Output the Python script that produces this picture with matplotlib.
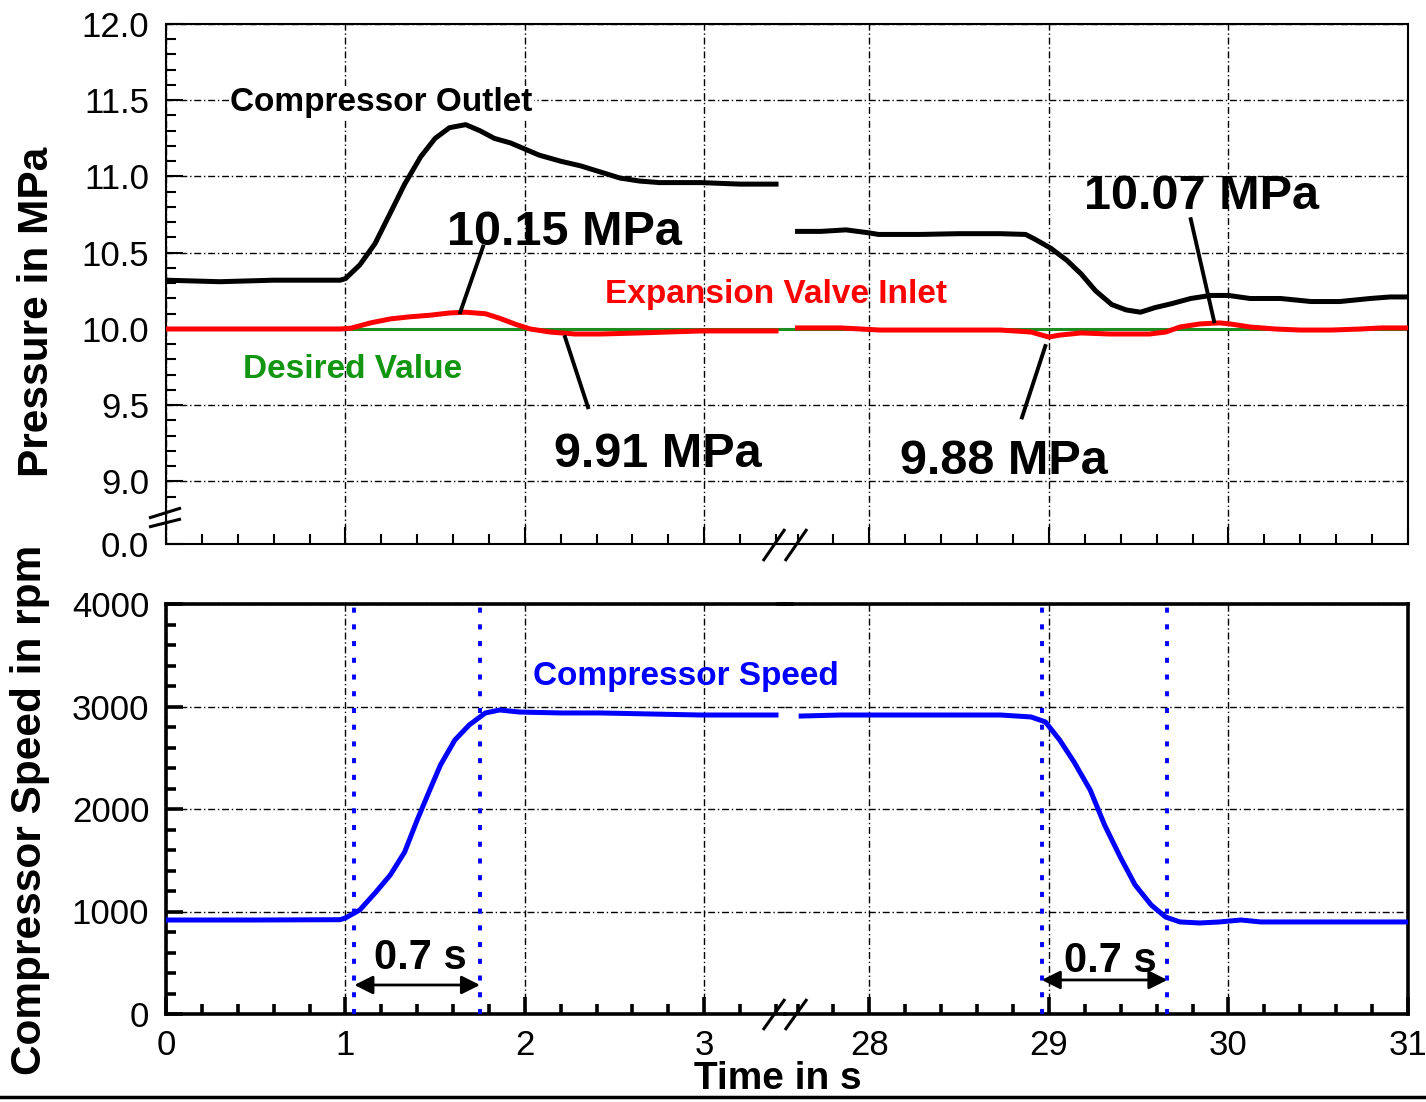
import numpy as np
import matplotlib
matplotlib.use('Agg')
import matplotlib.pyplot as plt
from matplotlib.lines import Line2D
from matplotlib.ticker import MultipleLocator

# compressor outlet pressure (MPa), start and end of the run
outlet_t1 = [0, 0.3, 0.6, 0.9, 0.97, 1.0, 1.08, 1.165, 1.25, 1.33, 1.42, 1.5,
             1.58, 1.67, 1.75, 1.83, 1.92, 2.0, 2.08, 2.2, 2.31, 2.42, 2.53,
             2.64, 2.75, 2.98, 3.2, 3.4]
outlet_p1 = [10.32, 10.31, 10.32, 10.32, 10.32, 10.33, 10.42, 10.56, 10.76,
             10.95, 11.13, 11.25, 11.32, 11.34, 11.30, 11.25, 11.22, 11.18,
             11.14, 11.10, 11.07, 11.03, 10.99, 10.97, 10.96, 10.96, 10.95,
             10.95]
outlet_t2 = [27.6, 27.73, 27.87, 28.0, 28.05, 28.28, 28.5, 28.73, 28.87, 28.92,
             29.01, 29.1, 29.18, 29.26, 29.35, 29.43, 29.51, 29.59, 29.68,
             29.79, 29.9, 30.0, 30.12, 30.29, 30.46, 30.62, 30.79, 30.9, 31.0]
outlet_p2 = [10.64, 10.64, 10.65, 10.63, 10.62, 10.62, 10.625, 10.625, 10.62,
             10.59, 10.53, 10.45, 10.36, 10.25, 10.16, 10.125, 10.11, 10.14,
             10.165, 10.20, 10.22, 10.22, 10.20, 10.20, 10.18, 10.18, 10.20,
             10.21, 10.21]

# expansion valve inlet pressure (MPa)
valve_t1 = [0, 0.5, 0.97, 1.03, 1.14, 1.25, 1.36, 1.47, 1.58, 1.67, 1.78,
            1.86, 1.95, 2.03, 2.14, 2.28, 2.42, 2.64, 2.98, 3.4]
valve_p1 = [10.0, 10.0, 10.0, 10.005, 10.04, 10.066, 10.08, 10.09, 10.105,
            10.11, 10.10, 10.07, 10.03, 10.0, 9.98, 9.967, 9.967, 9.974,
            9.987, 9.987]
valve_t2 = [27.6, 27.84, 28.06, 28.51, 28.73, 28.9, 29.0, 29.06, 29.18, 29.34,
            29.56, 29.65, 29.73, 29.84, 29.95, 30.01, 30.12, 30.26, 30.4,
            30.57, 30.74, 30.85, 31.0]
valve_p2 = [10.007, 10.007, 9.993, 9.993, 9.993, 9.98, 9.947, 9.96, 9.974,
            9.967, 9.967, 9.98, 10.013, 10.033, 10.04, 10.033, 10.013, 10.0,
            9.993, 9.993, 10.0, 10.007, 10.007]

desired_value = 10.0

# compressor speed (rpm)
speed_t1 = [0, 0.5, 0.97, 1.0, 1.08, 1.165, 1.25, 1.33, 1.4, 1.47, 1.53, 1.61,
            1.69, 1.78, 1.86, 1.97, 2.2, 2.42, 2.7, 2.98, 3.4]
speed_n1 = [917, 917, 920, 937, 1015, 1180, 1356, 1580, 1893, 2185, 2430,
            2673, 2820, 2937, 2966, 2946, 2937, 2937, 2927, 2917, 2917]
speed_t2 = [27.62, 27.84, 28.17, 28.5, 28.73, 28.9, 28.98, 29.06, 29.14,
            29.23, 29.31, 29.4, 29.48, 29.57, 29.65, 29.73, 29.84, 29.95,
            30.07, 30.18, 30.4, 31.0]
speed_n2 = [2907, 2917, 2917, 2917, 2917, 2898, 2850, 2673, 2458, 2185, 1844,
            1522, 1259, 1063, 946, 898, 888, 898, 917, 898, 898, 898]

# ramp marks (s)
ramp_up = [1.05, 1.75]
ramp_down = [28.96, 29.66]

W, H = 1426, 1102
GRID = dict(color='black', linestyle=(0, (5, 2, 1, 2)), linewidth=1.0)


def fig_line(fig, xs, ys, **kw):
    # decoration in pixel coordinates of the figure
    fig.add_artist(Line2D(np.array(xs) / W, 1 - np.array(ys) / H,
                          transform=fig.transFigure, **kw))


def style_axes(ax, side, spine_w, xlim, xticks):
    ax.set_xlim(xlim)
    ax.set_xticks(xticks)
    ax.xaxis.set_minor_locator(MultipleLocator(0.2))
    ax.patch.set_visible(False)
    for s in ax.spines.values():
        s.set_linewidth(spine_w)
        s.set_capstyle('projecting')
    if side == 'left':
        ax.spines['right'].set_visible(False)
        ax.tick_params(axis='y', which='both', direction='in', pad=12,
                       labelsize=25, width=spine_w)
        ax.tick_params(axis='y', which='major', length=12)
        ax.tick_params(axis='y', which='minor', length=7)
    else:
        ax.spines['left'].set_visible(False)
        ax.tick_params(axis='y', which='both', left=False, labelleft=False)
    ax.tick_params(axis='x', which='both', direction='in', top=False,
                   width=spine_w, labelsize=25, pad=11)
    ax.tick_params(axis='x', which='major', length=12)
    ax.tick_params(axis='x', which='minor', length=7)
    ax.grid(True, which='major', **GRID)
    ax.set_axisbelow(True)


def plot_chart(figure_file):
    plt.rcParams['font.family'] = ['Liberation Sans', 'DejaVu Sans']
    fig = plt.figure(figsize=(W / 100, H / 100), dpi=100)

    x0, xb, x1 = 166 / W, 785 / W, 1408 / W
    top_y, top_h = 1 - 544 / H, 520 / H
    bot_y, bot_h = 1 - 1014 / H, 410 / H
    left_lim = (0, 3.45)
    right_lim = (27.53, 31)

    pa = fig.add_axes([x0, top_y, xb - x0, top_h])
    pb = fig.add_axes([xb, top_y, x1 - xb, top_h])
    sa = fig.add_axes([x0, bot_y, xb - x0, bot_h])
    sb = fig.add_axes([xb, bot_y, x1 - xb, bot_h])

    # pressure panel
    p_ticks = [8.59, 9.0, 9.5, 10.0, 10.5, 11.0, 11.5, 12.0]
    p_labels = ['0.0', '9.0', '9.5', '10.0', '10.5', '11.0', '11.5', '12.0']
    for ax, side, lim, xt in [(pa, 'left', left_lim, [0, 1, 2, 3]),
                              (pb, 'right', right_lim, [28, 29, 30, 31])]:
        style_axes(ax, side, 1.5, lim, xt)
        ax.set_ylim(8.59, 12.0)
        ax.set_yticks(p_ticks)
        ax.set_yticks(np.arange(8.9, 12.0, 0.1), minor=True)
        ax.tick_params(axis='x', which='both', labelbottom=False)
        ax.axhline(desired_value, color='#1e8c1e', lw=2.2, zorder=2)
    pa.set_yticklabels(p_labels)
    pa.get_ygridlines()[0].set_visible(False)
    pb.get_ygridlines()[0].set_visible(False)

    pa.plot(outlet_t1, outlet_p1, color='black', lw=3.6, zorder=3)
    pb.plot(outlet_t2, outlet_p2, color='black', lw=3.6, zorder=3)
    pa.plot(valve_t1, valve_p1, color='red', lw=3.6, zorder=4)
    pb.plot(valve_t2, valve_p2, color='red', lw=3.6, zorder=4)

    bold = dict(fontweight='bold', ha='center', va='center', zorder=6)
    pa.text(1.2, 11.485, 'Compressor Outlet', fontsize=24, color='black',
            bbox=dict(facecolor='white', edgecolor='none', pad=1), **bold)
    pa.text(3.40, 10.225, 'Expansion Valve Inlet', fontsize=24, color='red',
            clip_on=False, **bold)
    pa.text(1.04, 9.735, 'Desired Value', fontsize=24, color='#129612', **bold)
    pa.text(2.22, 10.63, '10.15 MPa', fontsize=35, **bold)
    pa.text(2.74, 9.18, '9.91 MPa', fontsize=35, **bold)
    pb.text(29.85, 10.87, '10.07 MPa', fontsize=35, **bold)
    pb.text(28.75, 9.13, '9.88 MPa', fontsize=35, **bold)
    pa.plot([1.767, 1.64], [10.54, 10.11], color='black', lw=2.8, zorder=5)
    pa.plot([2.224, 2.352], [9.947, 9.487], color='black', lw=2.8, zorder=5)
    pb.plot([28.98, 28.85], [9.888, 9.42], color='black', lw=2.8, zorder=5)
    pb.plot([29.79, 29.92], [10.72, 10.05], color='black', lw=2.8, zorder=5)

    # speed panel
    for ax, side, lim, xt in [(sa, 'left', left_lim, [0, 1, 2, 3]),
                              (sb, 'right', right_lim, [28, 29, 30, 31])]:
        style_axes(ax, side, 2.6, lim, xt)
        ax.set_ylim(0, 4000)
        ax.set_yticks([0, 1000, 2000, 3000, 4000])
        ax.yaxis.set_minor_locator(MultipleLocator(200))
    sa.plot(speed_t1, speed_n1, color='blue', lw=3.6, zorder=3)
    sb.plot(speed_t2, speed_n2, color='blue', lw=3.6, zorder=3)
    for t in ramp_up:
        sa.axvline(t, color='blue', lw=2.8, linestyle=(0, (1.3, 3)), zorder=4)
    for t in ramp_down:
        sb.axvline(t, color='blue', lw=2.8, linestyle=(0, (1.3, 3)), zorder=4)
    arrow = dict(arrowstyle='<|-|>', color='black', lw=2, mutation_scale=28,
                 shrinkA=0, shrinkB=0)
    sa.annotate('', xy=(ramp_up[1], 283), xytext=(ramp_up[0], 283),
                arrowprops=arrow)
    sb.annotate('', xy=(ramp_down[1], 332), xytext=(ramp_down[0], 332),
                arrowprops=arrow)
    sa.text(1.415, 545, '0.7 s', fontsize=30, **bold)
    sb.text(29.34, 516, '0.7 s', fontsize=30, **bold)
    sa.text(2.9, 3297, 'Compressor Speed', fontsize=24, color='blue',
            clip_on=False, **bold)

    # axis titles
    fig.text(37 / W, 1 - 312 / H, 'Pressure in MPa', rotation=90,
             fontsize=30.5, fontweight='bold', ha='center', va='center')
    fig.text(30 / W, 1 - 810 / H, 'Compressor Speed in rpm', rotation=90,
             fontsize=30.5, fontweight='bold', ha='center', va='center')
    fig.text(778 / W, 1 - 1079 / H, 'Time in s', fontsize=28,
             fontweight='bold', ha='center', va='center')

    # axis break marks
    brk = dict(color='black', lw=2.2, solid_capstyle='butt')
    fig_line(fig, [149, 181], [518, 508], **brk)
    fig_line(fig, [149, 181], [527, 519], **brk)
    for yb, yt in [(561, 529), (1030, 999)]:
        fig_line(fig, [763, 785], [yb, yt], **brk)
        fig_line(fig, [785, 807], [yb, yt], **brk)
    fig_line(fig, [778, 792], [604, 604], color='black', lw=2.6)
    fig_line(fig, [0, W], [1097, 1097], color='black', lw=2.5)

    fig.savefig(figure_file, dpi=100)


if __name__ == '__main__':
    plot_chart('out.png')
